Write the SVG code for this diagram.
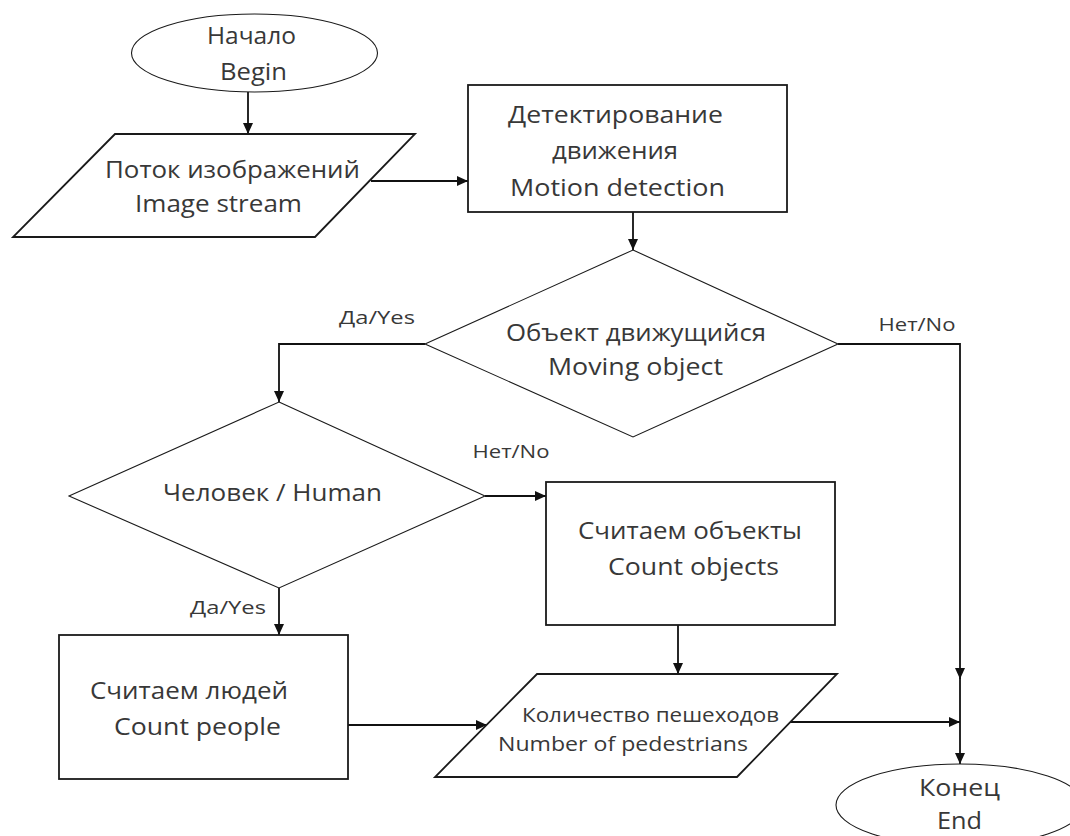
<svg xmlns="http://www.w3.org/2000/svg" width="1070" height="836" viewBox="0 0 1070 836">
<style>
text{font-family:"Open Sans","Noto Sans","Liberation Sans",sans-serif;fill:#383838;text-anchor:middle}
.t{font-size:23.5px}
.s{font-size:20.5px}
.l{font-size:18.5px}
.box{fill:#fff;stroke:#1a1a1a;stroke-width:1.8}
.thin{fill:#fff;stroke:#1a1a1a;stroke-width:1.1}
.c{fill:none;stroke:#111;stroke-width:1.8}
</style>
<defs>
<marker id="ah" markerUnits="userSpaceOnUse" markerWidth="12" markerHeight="12" viewBox="0 0 12 12" refX="11" refY="6" orient="auto">
<path d="M0,1 L11,6 L0,11 Z" fill="#111"/>
</marker>
</defs>
<rect width="1070" height="836" fill="#fff"/>
<g id="connectors">
<path class="c" d="M248 92 V134" marker-end="url(#ah)"/>
<path class="c" d="M371 181 H468" marker-end="url(#ah)"/>
<path class="c" d="M633 212 V250" marker-end="url(#ah)"/>
<path class="c" d="M425 344 H279 V402" marker-end="url(#ah)"/>
<path class="c" d="M838 344 H960 V679" marker-end="url(#ah)"/>
<path class="c" d="M960 676 V764" marker-end="url(#ah)"/>
<path class="c" d="M485 496 H546" marker-end="url(#ah)"/>
<path class="c" d="M279 588 V635" marker-end="url(#ah)"/>
<path class="c" d="M678 625 V674" marker-end="url(#ah)"/>
<path class="c" d="M348 725 H487" marker-end="url(#ah)"/>
<path class="c" d="M790 722 H960" marker-end="url(#ah)"/>
<text class="l" x="377" y="324" textLength="76" lengthAdjust="spacingAndGlyphs">Да/Yes</text>
<text class="l" x="917" y="331" textLength="77" lengthAdjust="spacingAndGlyphs">Нет/No</text>
<text class="l" x="511" y="458" textLength="77" lengthAdjust="spacingAndGlyphs">Нет/No</text>
<text class="l" x="228" y="614" textLength="76" lengthAdjust="spacingAndGlyphs">Да/Yes</text>
</g>
<g id="begin">
<ellipse class="thin" cx="254.5" cy="53" rx="123" ry="39"/>
<text class="t" x="251.5" y="44" textLength="89" lengthAdjust="spacingAndGlyphs">Начало</text>
<text class="t" x="253.5" y="80" textLength="67" lengthAdjust="spacingAndGlyphs">Begin</text>
</g>
<g id="image-stream">
<polygon class="box" points="115,134 415,134 315,237 13,237"/>
<text class="t" x="232.5" y="178" textLength="255" lengthAdjust="spacingAndGlyphs">Поток изображений</text>
<text class="t" x="218.5" y="212" textLength="167" lengthAdjust="spacingAndGlyphs">Image stream</text>
</g>
<g id="motion-detection">
<rect class="box" x="468" y="85" width="319" height="127"/>
<text class="t" x="615.5" y="123" textLength="215" lengthAdjust="spacingAndGlyphs">Детектирование</text>
<text class="t" x="615" y="159" textLength="126" lengthAdjust="spacingAndGlyphs">движения</text>
<text class="t" x="617.5" y="196" textLength="215" lengthAdjust="spacingAndGlyphs">Motion detection</text>
</g>
<g id="moving-object">
<polygon class="thin" points="633,250 838,344 633,437 425,344"/>
<text class="t" x="636" y="341" textLength="260" lengthAdjust="spacingAndGlyphs">Объект движущийся</text>
<text class="t" x="635.5" y="375" textLength="175" lengthAdjust="spacingAndGlyphs">Moving object</text>
</g>
<g id="human">
<polygon class="thin" points="279,402 485,496 279,588 69,496"/>
<text class="t" x="272.5" y="501" textLength="219" lengthAdjust="spacingAndGlyphs">Человек / Human</text>
</g>
<g id="count-objects">
<rect class="box" x="546" y="482" width="289" height="143"/>
<text class="t" x="690" y="539" textLength="224" lengthAdjust="spacingAndGlyphs">Считаем объекты</text>
<text class="t" x="693.5" y="575" textLength="171" lengthAdjust="spacingAndGlyphs">Count objects</text>
</g>
<g id="count-people">
<rect class="box" x="59" y="635" width="289" height="144"/>
<text class="t" x="189" y="699" textLength="198" lengthAdjust="spacingAndGlyphs">Считаем людей</text>
<text class="t" x="197.5" y="735" textLength="167" lengthAdjust="spacingAndGlyphs">Count people</text>
</g>
<g id="pedestrians">
<polygon class="box" points="537,674 837,674 737,777 435,777"/>
<text class="s" x="650.5" y="722" textLength="257" lengthAdjust="spacingAndGlyphs">Количество пешеходов</text>
<text class="s" x="623" y="751" textLength="250" lengthAdjust="spacingAndGlyphs">Number of pedestrians</text>
</g>
<g id="end">
<ellipse class="thin" cx="960" cy="805" rx="124" ry="41"/>
<text class="t" x="959.5" y="796" textLength="81" lengthAdjust="spacingAndGlyphs">Конец</text>
<text class="t" x="959.5" y="829" textLength="45" lengthAdjust="spacingAndGlyphs">End</text>
</g>
</svg>
